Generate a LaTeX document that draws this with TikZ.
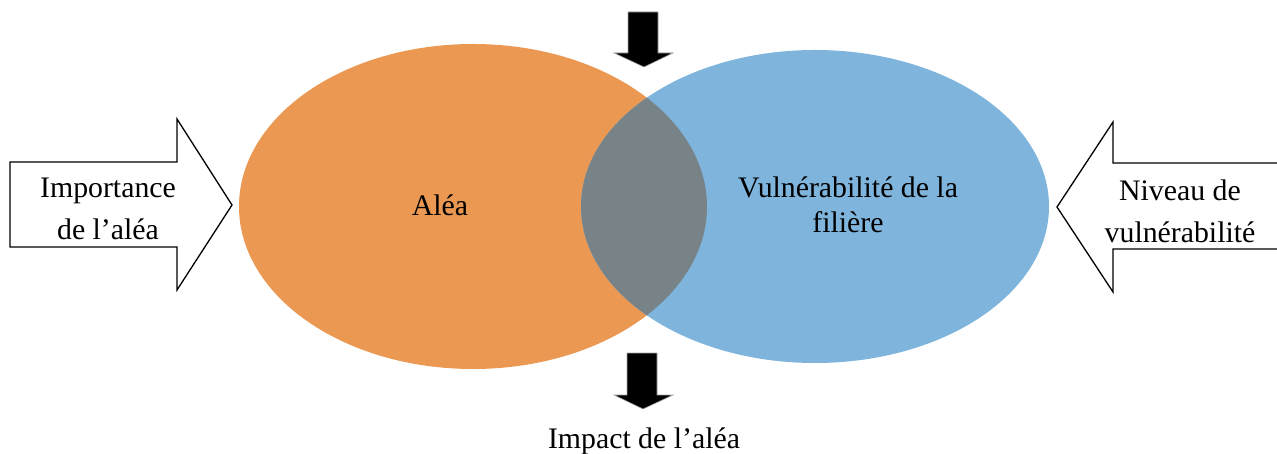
\documentclass[tikz,border=0pt]{standalone}
\usepackage{fontspec}
\setmainfont{Liberation Serif}
\usetikzlibrary{shapes.geometric}
\definecolor{alea}{RGB}{235,153,82}
\definecolor{vuln}{RGB}{127,181,221}
\definecolor{inter}{RGB}{119,131,135}
\tikzset{
  x=1pt,y=-1pt,
  lab/.style={font=\fontsize{29.8}{42}\selectfont,align=center,inner sep=0pt,anchor=base},
  bigarrow/.style={draw=black,line width=1.3pt,fill=white,line join=miter},
  blackarrow/.style={fill=black,draw=gray!70,line width=0.6pt},
  circ/.style={ellipse,draw=none,inner sep=0pt}
}
\begin{document}
\begin{tikzpicture}
\useasboundingbox (0,0) rectangle (1277,454);
% ellipses
\node[circ,fill=alea,minimum width=468pt,minimum height=325pt] (a) at (473,206.5) {};
\node[circ,fill=vuln,minimum width=468pt,minimum height=313pt] (v) at (815,206.5) {};
\begin{scope}
  \clip (473,206.5) ellipse [x radius=234,y radius=162.5];
  \fill[inter] (815,206.5) ellipse [x radius=234,y radius=156.5];
\end{scope}
% side arrows
\draw[bigarrow] (10,162) -- (177,162) -- (177,119) -- (232,205) -- (177,290) -- (177,247) -- (10,247) -- cycle;
\begin{scope}
  \clip (0,0) rectangle (1277,454);
  \draw[bigarrow] (1290,163) -- (1113,163) -- (1113,122) -- (1057,207) -- (1113,292) -- (1113,249) -- (1290,249);
\end{scope}
% top & bottom arrows
\draw[blackarrow] (628,12) -- (658,12) -- (658,53) -- (673,53) -- (644,67) -- (614,53) -- (628,53) -- cycle;
\draw[blackarrow] (627,353) -- (657,353) -- (657,395) -- (673,395) -- (643,409) -- (614,395) -- (627,395) -- cycle;
% labels
\node[lab] (ta) at (440,216) {Aléa};
\node[lab,font=\fontsize{29.8}{35}\selectfont] (tv) at (848,233) {Vulnérabilité de la\\filière};
\node[lab] (ti) at (108,240) {Importance\\de l’aléa};
\node[lab] (tn) at (1180,243) {Niveau de\\vulnérabilité};
\node[lab] (tp) at (644,448) {Impact de l’aléa};
\end{tikzpicture}
\end{document}
